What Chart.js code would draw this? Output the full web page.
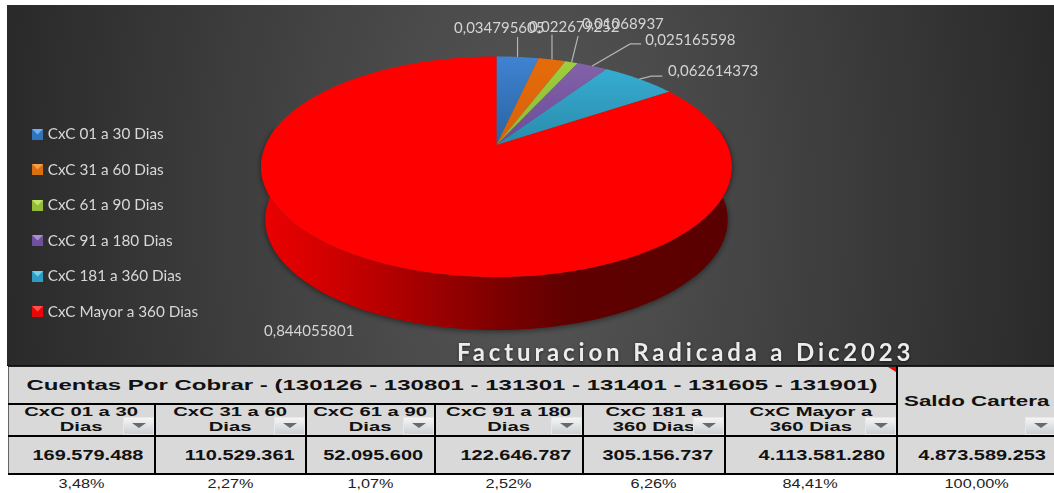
<!DOCTYPE html>
<html><head><meta charset="utf-8">
<style>
html,body{margin:0;padding:0;background:#fff;width:1054px;height:493px;overflow:hidden}
#c{position:absolute;left:0;top:0}
#wrap{position:absolute;left:8px;top:366px;width:1046px;height:127px;overflow:hidden}
table{border-collapse:collapse;table-layout:fixed;width:1048px;font-family:"Liberation Sans",Arial,sans-serif;color:#111}
td,th{padding:0;text-align:center;overflow:hidden;position:relative;white-space:nowrap}
.g{background:#d9d9d9;border:2px solid #000;font-weight:bold}
.first{border-left:1px solid #666}
.s{display:inline-block}
.r1 .s{font-size:15px;transform:scaleX(1.6)}
.r1 td{border-top:1px solid #222}
.r2 .s{font-size:12.5px;line-height:15px;transform:scaleX(1.62);white-space:pre-line}
.r2 td.g{border-top:1px solid #222}
.r3 td.g{text-align:right;padding-right:10px;box-sizing:border-box}
.r3 .s{font-size:15px;transform:scaleX(1.33);transform-origin:right center}
.r4 td{font-size:13px;color:#222;font-weight:normal}
.r4 .s{transform:scaleX(1.25)}
.r1 td.total{text-align:left;padding-left:6px;box-sizing:border-box;vertical-align:middle}
.r1 td.total .s{font-size:15px;transform:scaleX(1.49);transform-origin:left center}
.btn{position:absolute;right:0;bottom:0;width:31px;height:18px;background:linear-gradient(#f7f7f7,#c9ced2);box-shadow:inset 0 0 0 1px #e8e8e8}
.btn:after{content:"";position:absolute;left:9px;top:6px;border-left:7px solid transparent;border-right:7px solid transparent;border-top:5px solid #6a6a6a}
#mark{position:absolute;left:888px;top:367px;width:8px;height:5px;background:#f00;clip-path:polygon(0 0,100% 0,100% 100%)}
</style></head><body>
<canvas id="c" width="1054" height="366"></canvas>
<div id="wrap"></div>
<div id="mark"></div>
<script src="https://cdn.jsdelivr.net/npm/chart.js@4"></script>
<script>
const categories=["CxC 01 a 30 Dias","CxC 31 a 60 Dias","CxC 61 a 90 Dias","CxC 91 a 180 Dias","CxC 181 a 360 Dias","CxC Mayor a 360 Dias"];
const saldos=[169579488,110529361,52095600,122646787,305156737,4113581280];
const fractionLabels=["0,034795605","0,022679252","0,01068937","0,025165598","0,062614373","0,844055801"];
const headerLabels=["CxC 01 a 30\nDias","CxC 31 a 60\nDias","CxC 61 a 90\nDias","CxC 91 a 180\nDias","CxC 181 a\n360 Dias","CxC Mayor a\n360 Dias"];
const amountLabels=["169.579.488","110.529.361","52.095.600","122.646.787","305.156.737","4.113.581.280"];
const percentLabels=["3,48%","2,27%","1,07%","2,52%","6,26%","84,41%"];
const totalAmount="4.873.589.253";
const totalPercent="100,00%";
const totalHeader="Saldo Cartera";
const groupHeader="Cuentas Por Cobrar - (130126 - 130801 - 131301 - 131401 - 131605 - 131901)";
const chartTitle="Facturacion Radicada a Dic2023";
const sliceTop=["#3f83d2","#e66c0a","#9fce3e","#8464a8","#38b2d8","#ff0000"];
const sliceBottom=["#2a639f","#d8620a","#8dbb36","#6c4a9c","#2a8bab","#ff0000"];
const legendColors=["#2f74bd","#d9700f","#93bd38","#70509c","#2f9dbf","#e80808"];
const legendLights=["#6bb0f2","#f2a04d","#c4e26c","#a98ed0","#6fd3ee","#ff5050"];

// layout of the picture (not data)
const columnWidths=[146,151,129,148,142,172,160];
const rowHeights=[37,32,38,19];
const persp={apexX:496.5,apexY:145,A:230.8,B:106,e:0.197,depth:53,shrink:0.982};
const labelLayout=[
 {leader:[[0,-20]],dx:-63.5,dy:-29},
 {leader:[[0,-25]],dx:-23,dy:-32},
 {leader:[[6.5,-26]],dx:10.5,dy:-38},
 {leader:[[38,-22],[49,-22]],dx:53,dy:-26},
 {leader:[[12,-3],[23,-3]],dx:28.5,dy:-8},
 {leader:[],dx:-101,dy:73}
];
const textFont='Lato, "Open Sans", sans-serif';

function project(u,v){const d=1-persp.e*v;return [persp.apexX+persp.A*u/d,persp.apexY+persp.B*v/d];}
function projAngle(a){return project(Math.cos(a),Math.sin(a));}

const pie3d={
 id:'pie3d',
 beforeDraw(chart){
  const c=chart.ctx;
  c.save();
  c.fillStyle='#fff';c.fillRect(0,0,1054,366);
  c.save();
  c.beginPath();c.rect(7,5,1047,361);c.clip();
  c.translate(530,210);c.scale(1,1.8);
  const g=c.createRadialGradient(0,0,0,0,0,540);
  g.addColorStop(0,'#575757');g.addColorStop(1,'#292929');
  c.fillStyle=g;c.fillRect(-540,-200,1100,200);c.fillRect(-540,0,1100,200);
  c.restore();
  c.fillStyle='#111';c.fillRect(7,365,1047,1);
  c.restore();
 },
 beforeDatasetsDraw(chart){
  const c=chart.ctx,arcs=chart.getDatasetMeta(0).data;
  const lo=-10*Math.PI/180,hi=190*Math.PI/180;
  const g=c.createLinearGradient(261,0,732,0);
  g.addColorStop(0,'#ec0000');g.addColorStop(.12,'#d60000');g.addColorStop(.38,'#9a0000');g.addColorStop(.5,'#7e0000');g.addColorStop(.65,'#600000');g.addColorStop(1,'#5a0000');
  arcs.forEach(arc=>{
   const a0=Math.max(arc.startAngle,lo),a1=Math.min(arc.endAngle,hi);
   if(a1<=a0)return;
   const steps=180;
   c.save();
   c.shadowColor='rgba(0,0,0,.55)';c.shadowBlur=6;c.shadowOffsetY=1;
   c.fillStyle=g;c.beginPath();
   for(let i=0;i<=steps;i++){const p=projAngle(a0+(a1-a0)*i/steps);c.lineTo(p[0],p[1]);}
   for(let i=steps;i>=0;i--){const p=projAngle(a0+(a1-a0)*i/steps);
    c.lineTo(persp.apexX+(p[0]-persp.apexX)*persp.shrink,p[1]+persp.depth);}
   c.closePath();c.fill();
   c.restore();
  });
 },
 // the library's own arc path goes through the projection while the slices are drawn
 beforeDatasetDraw(chart){
  const c=chart.ctx,a=chart.getDatasetMeta(0).data[0];
  const cx=a.x,cy=a.y,R=a.outerRadius;
  const line=CanvasRenderingContext2D.prototype.lineTo,move=CanvasRenderingContext2D.prototype.moveTo;
  const map=(x,y)=>project((x-cx)/R,(y-cy)/R);
  c.lineTo=(x,y)=>{const p=map(x,y);line.call(c,p[0],p[1]);};
  c.moveTo=(x,y)=>{const p=map(x,y);move.call(c,p[0],p[1]);};
  c.arc=(x,y,r,s,e,ccw)=>{
   let d=e-s; if(ccw&&d>0)d-=2*Math.PI; if(!ccw&&d<0)d+=2*Math.PI;
   const n=Math.max(2,Math.ceil(Math.abs(d)/0.01));
   for(let i=0;i<=n;i++){const t=s+d*i/n;const p=map(x+r*Math.cos(t),y+r*Math.sin(t));line.call(c,p[0],p[1]);}
  };
 },
 afterDatasetDraw(chart){
  const c=chart.ctx;delete c.lineTo;delete c.moveTo;delete c.arc;
 },
 afterDatasetsDraw(chart){
  const c=chart.ctx,arcs=chart.getDatasetMeta(0).data;
  c.save();
  c.font='15px '+textFont;c.textBaseline='middle';c.textAlign='left';
  arcs.forEach((arc,i)=>{
   const p=projAngle((arc.startAngle+arc.endAngle)/2),l=labelLayout[i];
   if(l.leader.length){
    c.strokeStyle='#b4b4b4';c.lineWidth=1.2;c.beginPath();c.moveTo(p[0],p[1]);
    l.leader.forEach(q=>c.lineTo(p[0]+q[0],p[1]+q[1]));c.stroke();
   }
   c.fillStyle='#d4d4d4';
   c.fillText(fractionLabels[i],p[0]+l.dx,p[1]+l.dy);
  });
  c.font='bold 24px '+textFont;c.letterSpacing='3.85px';c.fillStyle='#ececec';
  c.shadowColor='rgba(0,0,0,.6)';c.shadowBlur=3;c.shadowOffsetY=1;
  c.fillText(chartTitle,457,353);
  c.restore();
 },
 afterDraw(chart){
  // bevelled legend markers on top of the library's legend boxes
  const c=chart.ctx,boxes=chart.legend.legendHitBoxes;
  c.save();
  boxes.forEach((b,i)=>{
   const x=b.left,y=Math.round(b.top+b.height/2-5.5),s=11;
   c.fillStyle=legendColors[i];c.fillRect(x,y,s,s);
   c.fillStyle=legendLights[i];c.beginPath();c.moveTo(x,y);c.lineTo(x+s,y);c.lineTo(x+s/2,y+s/2);c.closePath();c.fill();
  });
  c.restore();
 }
};

new Chart(document.getElementById('c'),{
 type:'pie',
 data:{labels:categories,datasets:[{data:saldos,borderWidth:0,
  backgroundColor(ctx){
   const g=ctx.chart.ctx.createLinearGradient(0,56,0,145);
   g.addColorStop(0,sliceTop[ctx.dataIndex]);g.addColorStop(1,sliceBottom[ctx.dataIndex]);return g;
  }}]},
 plugins:[pie3d],
 options:{responsive:false,animation:false,devicePixelRatio:1,
  layout:{padding:{left:11.85,top:80}},
  plugins:{
   tooltip:{enabled:false},
   legend:{position:'left',align:'center',labels:{
    boxWidth:8,boxHeight:8,padding:20.2,color:'#d8d8d8',font:{family:textFont,size:15.3},
    generateLabels(chart){return categories.map((t,i)=>({text:t,fillStyle:legendColors[i],strokeStyle:legendColors[i],lineWidth:0,fontColor:'#d8d8d8',index:i,hidden:false}));}
   }}
  }}
});

// table
const span=(t)=>`<span class="s">${t}</span>`;
const btn='<div class="btn"></div>';
const fc=(i)=>i===0?' first':'';
let h='<table><colgroup>'+columnWidths.map(w=>`<col style="width:${w}px">`).join('')+'</colgroup>';
h+=`<tr class="r1" style="height:${rowHeights[0]}px"><td class="g first" colspan="6">${span(groupHeader)}</td>`;
h+=`<td class="g total" rowspan="2">${span(totalHeader)}${btn}</td></tr>`;
h+=`<tr class="r2" style="height:${rowHeights[1]}px">`+headerLabels.map((t,i)=>`<td class="g${fc(i)}">${span(t)}${btn}</td>`).join('')+'</tr>';
h+=`<tr class="r3" style="height:${rowHeights[2]}px">`+amountLabels.concat([totalAmount]).map((t,i)=>`<td class="g${fc(i)}">${span(t)}</td>`).join('')+'</tr>';
h+=`<tr class="r4" style="height:${rowHeights[3]}px">`+percentLabels.concat([totalPercent]).map(t=>`<td>${span(t)}</td>`).join('')+'</tr>';
h+='</table>';
document.getElementById('wrap').innerHTML=h;
</script>
</body></html>
